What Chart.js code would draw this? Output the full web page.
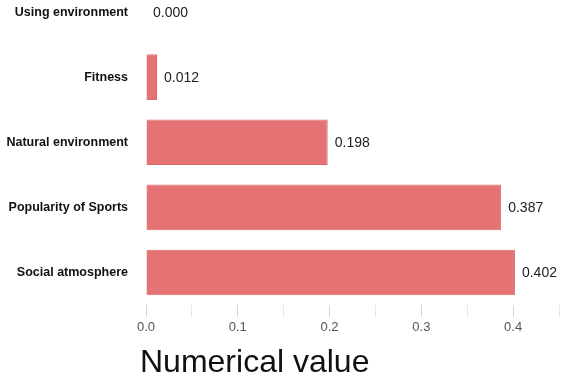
<!DOCTYPE html>
<html>
<head>
<meta charset="utf-8">
<script src="https://cdn.jsdelivr.net/npm/chart.js@4.4.1/dist/chart.umd.min.js"></script>
<style>
  html, body { margin: 0; padding: 0; background: #fff; overflow: hidden; }
  #wrap { position: relative; top: -46px; width: 566px; height: 425px; }
</style>
</head>
<body>
<div id="wrap"><canvas id="myChart"></canvas></div>
<script>
// categories and values
var factors = ["Using environment", "Fitness", "Natural environment", "Popularity of Sports", "Social atmosphere"];
var weights = [0.000, 0.012, 0.198, 0.387, 0.402];
var axisTitle = "Numerical value";

// value text at the end of every bar
var barLabels = {
  id: "barLabels",
  afterDatasetsDraw: function(chart) {
    var ctx = chart.ctx;
    var meta = chart.getDatasetMeta(0);
    ctx.save();
    ctx.font = "14px 'Liberation Sans', Arial, sans-serif";
    ctx.fillStyle = "#222";
    ctx.textAlign = "left";
    ctx.textBaseline = "middle";
    meta.data.forEach(function(bar, i) {
      ctx.fillText(weights[i].toFixed(3), bar.x + 7, bar.y + 1);
    });
    ctx.restore();
  }
};

// big axis title under the ticks
var bigTitle = {
  id: "bigTitle",
  afterDraw: function(chart) {
    var ctx = chart.ctx;
    ctx.save();
    ctx.font = "32px 'Liberation Sans', Arial, sans-serif";
    ctx.fillStyle = "#111";
    ctx.textAlign = "left";
    ctx.textBaseline = "middle";
    ctx.fillText(axisTitle, chart.chartArea.left - 6, chart.chartArea.bottom + 58);
    ctx.restore();
  }
};

new Chart("myChart", {
  type: "bar",
  data: {
    labels: factors,
    datasets: [{
      data: weights,
      backgroundColor: "#e57373",
      borderColor: "#d96a6c",
      borderWidth: 1,
      barPercentage: 0.7,
      categoryPercentage: 1.0
    }]
  },
  options: {
    indexAxis: "y",
    responsive: true,
    maintainAspectRatio: false,
    animation: false,
    layout: { padding: { left: 0, right: 7, top: 0, bottom: 0 } },
    plugins: {
      legend: { display: false },
      tooltip: { enabled: false }
    },
    scales: {
      x: {
        min: 0,
        max: 0.45,
        border: { display: false },
        grid: {
          drawOnChartArea: false,
          drawTicks: true,
          tickLength: 12,
          color: function(c) {
            var v = c.tick ? c.tick.value : 0;
            return Math.abs(v * 10 - Math.round(v * 10)) < 1e-6 ? "#d4d4d4" : "#e6e6e6";
          }
        },
        ticks: {
          stepSize: 0.05,
          autoSkip: false,
          maxRotation: 0,
          padding: 3,
          color: "#555",
          font: { size: 13, family: "'Liberation Sans', Arial, sans-serif" },
          callback: function(v) {
            return Math.abs(v * 10 - Math.round(v * 10)) < 1e-6 ? v.toFixed(1) : "";
          }
        },
        afterFit: function(scale) { scale.height = 74; }
      },
      y: {
        border: { display: false },
        grid: { display: false, drawTicks: false },
        ticks: {
          padding: 18,
          color: "#111",
          font: { size: 12.5, weight: "bold", family: "'Liberation Sans', Arial, sans-serif" }
        },
        afterFit: function(scale) { scale.width = 146; }
      }
    }
  },
  plugins: [barLabels, bigTitle]
});
</script>
</body>
</html>
